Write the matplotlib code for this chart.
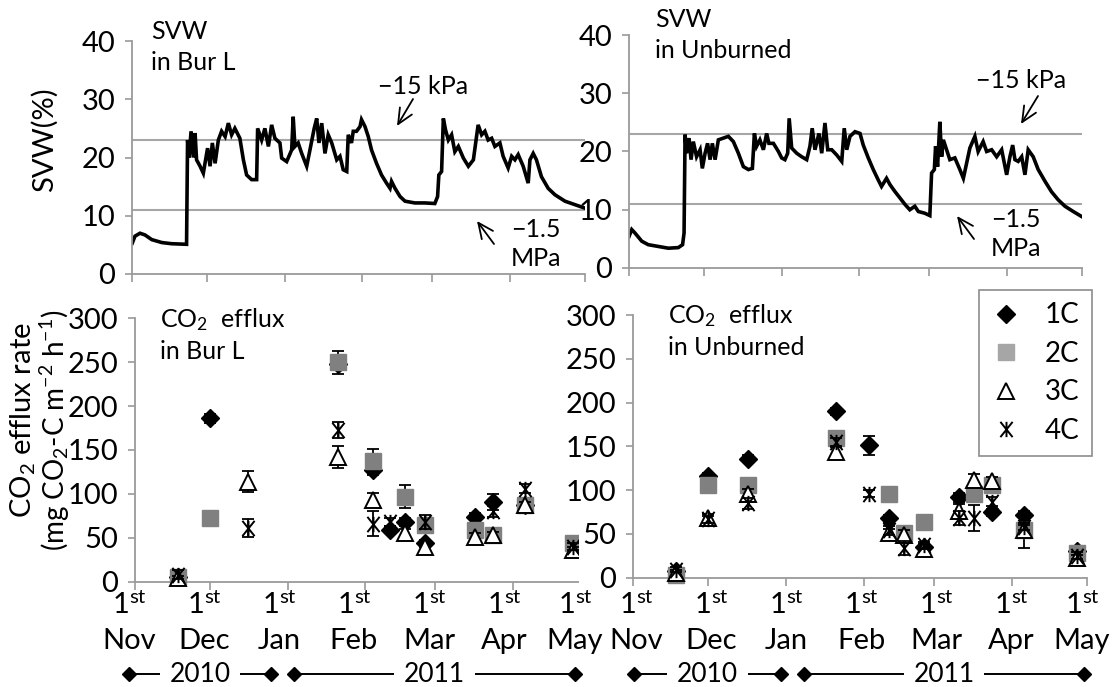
import numpy as np
import matplotlib
matplotlib.use("Agg")
import matplotlib.pyplot as plt
import matplotlib.dates as mdates
from matplotlib.path import Path
from matplotlib.lines import Line2D
from matplotlib.patches import Rectangle, FancyArrowPatch
from datetime import datetime

plt.rcParams['font.family'] = ['Lato', 'DejaVu Sans']
plt.rcParams['mathtext.fontset'] = 'custom'
plt.rcParams['mathtext.rm'] = 'Lato'
plt.rcParams['mathtext.it'] = 'Lato:italic'
plt.rcParams['mathtext.bf'] = 'Lato:bold'

W, H = 1115, 687
START = datetime(2010, 11, 1)
END = datetime(2011, 5, 1)

# ---- soil volumetric water (days since 1 Nov 2010, %) ----
svw_bur_days = [0.1, 1.2, 3.2, 5.2, 7.9, 11.9, 15.8, 21.8, 22.2, 22.8, 23.6, 24.5, 25.2, 25.8,
                27.2, 28.5, 29.4, 30.2, 31.2, 32.1, 33.2, 34.5, 35.8, 37.2, 38.5, 39.8, 41.1,
                43.1, 44.5, 45.8, 47.8, 49.8, 50.2, 51.8, 53.1, 54.5, 55.8, 57.1, 59.1, 59.8,
                61.8, 62.7, 63.8, 64.4, 65.1, 66.4, 67.8, 69.8, 71.1, 72.8, 73.8, 74.7, 75.8,
                77.1, 78.4, 79.8, 81.8, 83.1, 84.4, 85.8, 86.4, 87.7, 88.4, 89.7, 91.1, 91.7,
                93.1, 94.4, 95.7, 97.7, 99.7, 101.7, 103.1, 103.7, 105.1, 107.1, 109.1, 113.0,
                117.0, 121.0, 122.1, 122.6, 123.7, 124.4, 125.3, 126.4, 127.7, 129.0, 130.4,
                132.4, 134.4, 136.4, 138.3, 139.7, 141.0, 142.3, 143.7, 145.0, 147.0, 148.3,
                150.3, 151.7, 153.0, 154.3, 156.3, 158.3, 159.0, 160.3, 161.6, 163.6, 166.3,
                169.0, 173.0, 177.0, 181.0]
svw_bur = [5.3, 6.5, 7.0, 6.7, 5.9, 5.4, 5.2, 5.1, 23.0, 20.0, 24.5, 20.0, 24.2, 19.6,
           18.5, 17.3, 19.6, 21.6, 18.5, 22.5, 19.0, 23.0, 24.5, 23.6, 25.9, 23.9, 25.0,
           23.3, 19.6, 17.0, 16.2, 16.2, 25.0, 23.0, 25.0, 21.9, 25.6, 23.3, 22.5, 19.9,
           19.3, 20.2, 21.3, 27.0, 21.9, 22.5, 20.7, 18.5, 21.3, 25.0, 26.7, 22.5, 25.9,
           20.7, 23.9, 22.5, 19.6, 20.2, 17.9, 17.6, 23.9, 22.5, 24.5, 24.5, 25.3, 26.5,
           25.3, 23.6, 21.3, 19.0, 17.0, 15.6, 14.7, 15.9, 14.7, 13.3, 12.5, 12.2,
           12.2, 12.1, 13.3, 17.0, 17.6, 26.7, 24.7, 23.0, 23.9, 21.0, 21.9,
           19.9, 18.5, 19.6, 25.6, 23.9, 24.5, 23.0, 23.3, 21.9, 22.5, 20.2,
           18.2, 20.2, 19.6, 20.5, 18.5, 15.6, 19.6, 20.7, 19.6, 16.7, 14.7,
           13.6, 12.5, 11.9, 11.3]

svw_unb_days = [0.0, 1.1, 2.4, 5.1, 7.7, 11.7, 15.7, 19.7, 21.4, 22.0, 22.4, 23.0, 24.0, 24.8,
                25.7, 27.0, 28.4, 29.3, 30.4, 31.4, 32.4, 33.3, 34.4, 35.7, 37.7, 39.7, 41.7,
                43.7, 45.7, 47.7, 49.3, 50.1, 51.0, 52.3, 53.7, 55.0, 55.9, 57.7, 59.7, 61.0,
                62.3, 63.4, 64.0, 65.0, 67.0, 69.0, 71.0, 72.3, 73.2, 74.3, 75.9, 77.0, 78.3,
                79.4, 81.0, 83.0, 85.0, 86.0, 87.0, 88.3, 90.3, 92.3, 93.6, 95.6, 97.6, 99.6,
                100.9, 102.9, 104.3, 106.3, 108.3, 110.3, 112.2, 114.2, 115.6, 118.2, 120.2,
                120.9, 122.0, 122.5, 123.3, 124.2, 124.9, 125.6, 126.9, 128.2, 130.2, 132.2,
                133.6, 134.9, 136.2, 138.2, 139.5, 141.5, 142.9, 144.9, 146.9, 148.9, 150.9,
                152.2, 153.3, 154.2, 155.5, 156.9, 158.2, 159.5, 161.5, 163.5, 166.2, 168.8,
                171.5, 174.2, 177.5, 181.0]
svw_unb = [5.4, 6.6, 6.0, 4.6, 4.0, 3.7, 3.4, 3.5, 4.0, 6.0, 22.9, 19.7, 22.3, 18.6,
           21.7, 19.1, 20.3, 17.1, 19.7, 21.4, 18.6, 21.4, 18.6, 22.0, 22.3, 22.6, 21.7,
           19.7, 17.4, 16.9, 17.1, 23.1, 20.9, 22.0, 20.3, 23.1, 21.4, 21.4, 20.0, 18.9,
           18.6, 19.7, 25.7, 20.6, 19.7, 19.1, 18.6, 20.9, 24.0, 20.3, 23.1, 19.7, 24.9,
           20.3, 20.3, 19.4, 18.3, 24.0, 20.3, 22.6, 23.4, 23.1, 21.1, 18.9, 16.9, 15.1,
           14.0, 15.4, 14.3, 13.1, 12.0, 10.9, 10.0, 10.6, 9.7, 9.4, 9.0,
           16.3, 16.9, 20.9, 17.4, 25.1, 19.1, 22.0, 20.3, 18.6, 18.9, 16.9,
           15.4, 18.0, 20.6, 22.6, 20.0, 21.7, 20.0, 20.3, 19.1, 20.3, 16.0,
           19.1, 21.1, 18.6, 18.3, 19.1, 16.0, 20.3, 19.1, 16.9, 14.9, 13.1,
           11.7, 10.6, 9.7, 8.8]

SVW_LIMITS = [23, 11]   # -15 kPa and -1.5 MPa

# ---- CO2 efflux (mg CO2-C m-2 h-1) ----
SERIES = ['1C', '2C', '3C', '4C']
nan = np.nan

dates_bur = ['2010-11-18', '2010-12-01', '2010-12-16', '2011-01-21', '2011-02-04', '2011-02-11',
             '2011-02-17', '2011-02-25', '2011-03-17', '2011-03-24', '2011-04-06', '2011-04-25']
bur_1c = [5, 186, nan, 248, 127, 59, 68, 44, 74, 91, 87, nan]
bur_2c = [5, 72, nan, 250, 137, nan, 97, 65, 59, 53, 87, 44]
bur_3c = [4, nan, 114, 142, 93, nan, 55, 40, 51, 53, 87, 36]
bur_4c = [8, nan, 61, 173, 66, 68, nan, 68, nan, 80, 106, 40]
bur_1c_se = [3, 5, 0, 5, 5, 4, 5, 4, 4, 9, 4, 0]
bur_2c_se = [3, 3, 0, 13, 14, 0, 13, 5, 4, 4, 4, 4]
bur_3c_se = [3, 0, 12, 12, 8, 0, 5, 4, 4, 4, 4, 4]
bur_4c_se = [5, 0, 10, 9, 14, 4, 0, 8, 0, 6, 5, 4]

dates_unb = ['2010-11-18', '2010-12-01', '2010-12-17', '2011-01-21', '2011-02-03', '2011-02-11',
             '2011-02-17', '2011-02-25', '2011-03-11', '2011-03-17', '2011-03-24', '2011-04-06',
             '2011-04-27']
unb_1c = [8, 116, 136, 190, 151, 68, nan, 35, 92, nan, 75, 72, 30]
unb_2c = [3, 106, 106, 160, nan, 96, 51, 64, nan, 96, 106, 54, 28]
unb_3c = [5, 68, 96, 144, nan, 51, 49, 33, 76, 112, 110, 55, 22]
unb_4c = [9, 67, 85, 155, 96, 54, 34, 37, 68, 68, 87, 58, 25]
unb_1c_se = [3, 4, 4, 4, 11, 4, 0, 4, 5, 0, 4, 4, 3]
unb_2c_se = [3, 3, 3, 3, 0, 3, 3, 3, 0, 3, 3, 20, 3]
unb_3c_se = [4, 5, 5, 5, 0, 5, 5, 4, 8, 6, 5, 5, 4]
unb_4c_se = [3, 4, 6, 5, 4, 5, 8, 4, 8, 15, 5, 4, 4]

MONTHS = ['Nov', 'Dec', 'Jan', 'Feb', 'Mar', 'Apr', 'May']
YEARS = ['2010', '2011']

# ---- styling ----
AXIS_GRAY = '#9a9a9a'
FS = 21        # axis text
FS_NOTE = 18   # panel notes
star = Path([(0, -1), (0, 1), (-0.8, -1), (0.8, 1), (-0.8, 1), (0.8, -1)],
            [Path.MOVETO, Path.LINETO, Path.MOVETO, Path.LINETO, Path.MOVETO, Path.LINETO])
MARKERS = {
    '1C': dict(marker='D', ms=9, mfc='black', mec='black', mew=1),
    '2C': dict(marker='s', ms=12, mfc='#808080', mec='#808080', mew=1),
    '3C': dict(marker='^', ms=12, mfc='white', mec='black', mew=1.4),
    '4C': dict(marker=star, ms=11, mfc='none', mec='black', mew=1.4),
}

fig = plt.figure(figsize=(W / 100, H / 100), dpi=100)


def px_axes(left, top, right, bottom, **kw):
    return fig.add_axes([left / W, 1 - bottom / H, (right - left) / W, (bottom - top) / H], **kw)


def fpx(x, y):
    return x / W, 1 - y / H


def style_axes(ax, ymax, ystep):
    for side in ['top', 'right']:
        ax.spines[side].set_visible(False)
    for side in ['left', 'bottom']:
        ax.spines[side].set_color(AXIS_GRAY)
        ax.spines[side].set_linewidth(1.3)
    ax.set_ylim(0, ymax)
    ax.set_yticks(np.arange(0, ymax + 1, ystep))
    ax.xaxis.set_major_locator(mdates.MonthLocator())
    ax.tick_params(axis='x', labelbottom=False, length=6, width=1.2, color=AXIS_GRAY)
    ax.tick_params(axis='y', labelsize=FS, length=5, width=1.2, color=AXIS_GRAY, pad=7)


def to_x(days):
    return mdates.date2num(START) + np.asarray(days)


# ---- top panels ----
top_specs = [
    ((132, 41, 585, 274), svw_bur_days, svw_bur, 'SVW\nin Bur L', (151, 20),
     (423, 86), (413, 99), (397, 126), (511, 218), (494, 244), (477, 221)),
    ((629, 35, 1082, 268), svw_unb_days, svw_unb, 'SVW\nin Unburned', (655, 8),
     (1021, 81), (1038, 96), (1021, 124), (991, 208), (974, 239), (957, 216)),
]
for (box, days, vals, title, tpos, kpa_pos, kpa_tail, kpa_head,
     mpa_pos, mpa_tail, mpa_head) in top_specs:
    ax = px_axes(*box)
    style_axes(ax, 40, 10)
    ax.set_xlim(mdates.date2num(START), mdates.date2num(END))
    for lim in SVW_LIMITS:
        ax.axhline(lim, color='#a6a6a6', lw=1.5, zorder=1)
    ax.plot(to_x(days), vals, color='black', lw=2.6, solid_joinstyle='miter', zorder=2)
    fig.text(*fpx(*tpos), title, fontsize=FS_NOTE, va='top', ha='left', linespacing=1.4)
    fig.text(*fpx(*kpa_pos), '\u221215 kPa', fontsize=FS_NOTE, va='center', ha='center')
    fig.text(*fpx(*mpa_pos), '\u22121.5\nMPa', fontsize=FS_NOTE, va='top', ha='left',
             linespacing=1.3)
    for tail, head in [(kpa_tail, kpa_head), (mpa_tail, mpa_head)]:
        fig.add_artist(FancyArrowPatch(
            fpx(*tail), fpx(*head), transform=fig.transFigure,
            arrowstyle='->,head_length=11,head_width=5', lw=1.3, color='black',
            mutation_scale=1, shrinkA=0, shrinkB=0))
    if box[0] < 300:
        fig.text(*fpx(44, 140), 'SVW(%)', fontsize=FS, rotation=90, va='center', ha='center')

# ---- bottom panels ----
bottom_specs = [
    ((135, 318.3, 588, 581.7), dates_bur, [bur_1c, bur_2c, bur_3c, bur_4c],
     [bur_1c_se, bur_2c_se, bur_3c_se, bur_4c_se], 'CO$_2$  efflux\nin Bur L', (160, 306)),
    ((633, 315, 1087, 577.7), dates_unb, [unb_1c, unb_2c, unb_3c, unb_4c],
     [unb_1c_se, unb_2c_se, unb_3c_se, unb_4c_se], 'CO$_2$  efflux\nin Unburned', (668, 302)),
]
bottom_axes = []
for i, (box, dates, vals, errs, title, tpos) in enumerate(bottom_specs):
    ax = px_axes(*box, zorder=i * 2)
    style_axes(ax, 300, 50)
    ax.set_xlim(mdates.date2num(START), mdates.date2num(END))
    x = mdates.datestr2num(dates)
    for k, name in enumerate(SERIES):
        m = MARKERS[name]
        ax.errorbar(x, vals[k], yerr=errs[k], fmt='none', ecolor='black', elinewidth=1.3,
                    capsize=4.5, capthick=1.3, zorder=3 + k, clip_on=False)
        ax.plot(x, vals[k], ls='none', zorder=3 + k, clip_on=False, **m)
    fig.text(*fpx(*tpos), title, fontsize=FS_NOTE, va='top', ha='left', linespacing=1.35)
    bottom_axes.append(ax)

# the right panel hides the end of the left one
fig.add_artist(Rectangle(fpx(579, 590), 50 / W, 290 / H, transform=fig.transFigure,
                         facecolor='white', edgecolor='none', zorder=1))

fig.text(*fpx(23, 420), 'CO$_2$ efflux rate', fontsize=FS, rotation=90, va='center', ha='center')
fig.text(*fpx(55, 430), '(mg CO$_2$-C m$^{-2}$ h$^{-1}$)', fontsize=FS - 1, rotation=90,
         va='center', ha='center')

# legend
handles = [Line2D([], [], ls='none', **MARKERS[n]) for n in SERIES]
handles[1].set_markerfacecolor('#a6a6a6')
handles[1].set_markeredgecolor('#a6a6a6')
leg = bottom_axes[1].legend(handles, SERIES, loc='upper right', bbox_to_anchor=fpx(1092, 290),
                            bbox_transform=fig.transFigure, fancybox=False, framealpha=1,
                            edgecolor='#8c8c8c', fontsize=FS - 1, borderpad=0.45,
                            labelspacing=0.45, handlelength=1.0, handletextpad=0.9,
                            borderaxespad=0)
leg.get_frame().set_linewidth(1.2)

# month labels and year brackets
label_x = {'left': [129, 204, 279, 354, 429, 504, 575],
           'right': [636, 711, 786, 861, 936, 1011, 1082]}
for side, xs in label_x.items():
    for xp, mon in zip(xs, MONTHS):
        fig.text(*fpx(xp, 605), r'1$^{\mathrm{st}}$', fontsize=FS, ha='center', va='center')
        fig.text(*fpx(xp, 641), mon, fontsize=FS, ha='center', va='center')

year_spans = [((129, 271), (294, 575)), ((634, 781), (804, 1084))]
for spans in year_spans:
    for (x0, x1), yr in zip(spans, YEARS):
        fig.add_artist(Line2D([x0 / W, x1 / W], [1 - 674 / H] * 2, color='black', lw=1.4,
                              marker='D', ms=7, markevery=[0, 1], transform=fig.transFigure))
        fig.text(*fpx((x0 + x1) / 2, 674), yr, fontsize=19, ha='center', va='center',
                 bbox=dict(facecolor='white', edgecolor='none', pad=7))

fig.savefig('out.png', dpi=100)
